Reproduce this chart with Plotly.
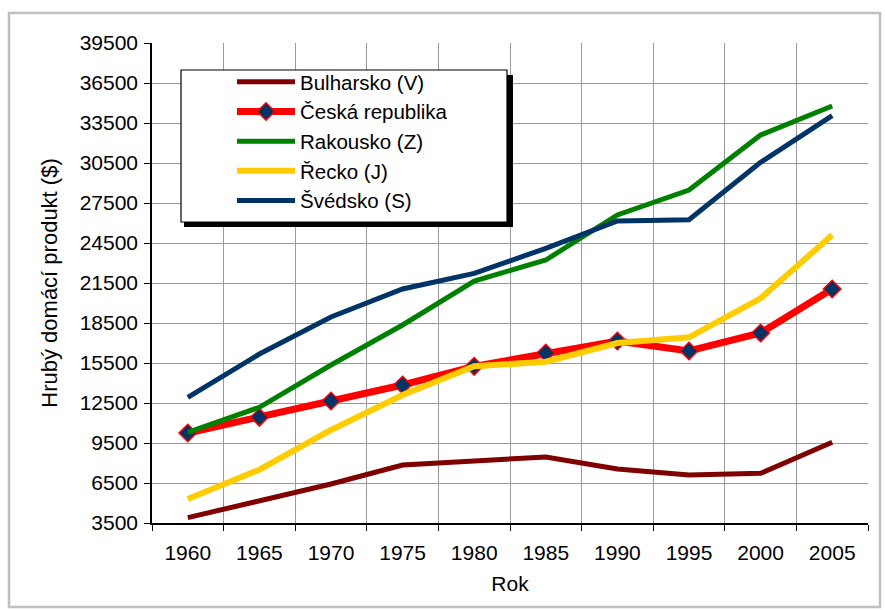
import plotly.graph_objects as go

years = ["1960", "1965", "1970", "1975", "1980", "1985", "1990", "1995", "2000", "2005"]

bulharsko = [3900, 5150, 6425, 7850, 8150, 8450, 7550, 7100, 7225, 9550]
ceska = [10250, 11425, 12650, 13850, 15250, 16250, 17150, 16400, 17750, 21050]
rakousko = [10300, 12175, 15350, 18350, 21650, 23225, 26600, 28475, 32600, 34775]
recko = [5300, 7500, 10475, 13100, 15250, 15600, 17000, 17425, 20350, 25100]
svedsko = [12925, 16175, 18950, 21050, 22225, 24100, 26150, 26250, 30550, 34050]

y_ticks = list(range(3500, 39501, 3000))

FONT = "Liberation Sans, Arial, sans-serif"

fig = go.Figure()
fig.add_trace(go.Scatter(x=years, y=bulharsko, name="Bulharsko (V)", mode="lines",
                         line=dict(color="#800000", width=5)))
fig.add_trace(go.Scatter(x=years, y=ceska, name="Česká republika", mode="lines+markers",
                         line=dict(color="#FF0000", width=7),
                         marker=dict(symbol="diamond", size=13.5, color="#003366",
                                     line=dict(color="#FF0000", width=1.5))))
fig.add_trace(go.Scatter(x=years, y=rakousko, name="Rakousko (Z)", mode="lines",
                         line=dict(color="#008000", width=5)))
fig.add_trace(go.Scatter(x=years, y=recko, name="Řecko (J)", mode="lines",
                         line=dict(color="#FFCC00", width=6)))
fig.add_trace(go.Scatter(x=years, y=svedsko, name="Švédsko (S)", mode="lines",
                         line=dict(color="#003366", width=5)))

# plot area in pixels: x 152..868, y 43..523
L, R, T, B = 152, 868, 43, 523
W, H = R - L, B - T


def px(xp):
    return (xp - L) / W


def py(yp):
    return (B - yp) / H


shapes = [
    # outer chart border
    dict(type="rect", xref="paper", yref="paper", x0=px(9), x1=px(880), y0=py(607), y1=py(13),
         line=dict(color="#c0c0c0", width=2.5), fillcolor="rgba(0,0,0,0)", layer="below"),
    # legend shadow
    dict(type="rect", xref="paper", yref="paper", x0=px(184), x1=px(513), y0=py(227), y1=py(75),
         line=dict(width=0), fillcolor="black", layer="above"),
    # legend box
    dict(type="rect", xref="paper", yref="paper", x0=px(181), x1=px(507), y0=py(222), y1=py(70),
         line=dict(color="black", width=1.2), fillcolor="white", layer="above"),
]

fig.update_layout(
    width=885, height=610,
    margin=dict(l=L, r=885 - R, t=T, b=610 - B),
    paper_bgcolor="white", plot_bgcolor="white",
    font=dict(family=FONT, size=21, color="black"),
    showlegend=True,
    legend=dict(x=px(232), y=py(62), xanchor="left", yanchor="top",
                bgcolor="rgba(0,0,0,0)", borderwidth=0,
                font=dict(family=FONT, size=20.5, color="black"),
                itemwidth=58, tracegroupgap=0),
    shapes=shapes,
    xaxis=dict(type="category", range=[-0.5, len(years) - 0.5],
               tickson="boundaries", ticks="outside", ticklen=6,
               tickcolor="black", tickwidth=1.2, ticklabelstandoff=10,
               showgrid=True, gridcolor="#9a9a9a", gridwidth=1,
               showline=True, linecolor="black", linewidth=1.5,
               tickfont=dict(family=FONT, size=21, color="black"),
               title=dict(text="Rok", font=dict(family=FONT, size=21, color="black"), standoff=13),
               automargin=False),
    yaxis=dict(range=[3500, 39500], tickmode="array", tickvals=y_ticks,
               ticktext=[str(v) for v in y_ticks],
               ticks="outside", ticklen=6, tickcolor="black", tickwidth=1.2, ticklabelstandoff=2,
               showgrid=True, gridcolor="#9a9a9a", gridwidth=1,
               showline=True, linecolor="black", linewidth=1.5, zeroline=False,
               tickfont=dict(family=FONT, size=21, color="black"),
               title=dict(text="Hrubý domácí produkt ($)", font=dict(family=FONT, size=22, color="black"),
                          standoff=16),
               automargin=False),
)

fig.write_html("out.html", config={"displayModeBar": False},
               post_script="document.body.style.margin='0';")
